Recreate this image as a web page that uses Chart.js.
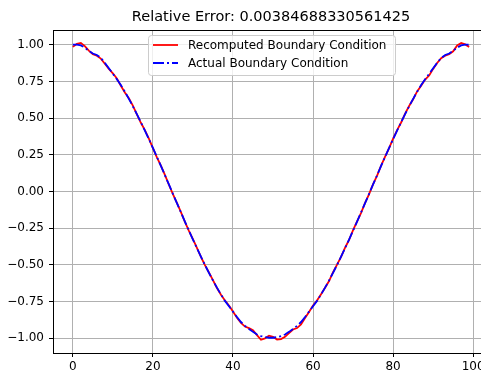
<!DOCTYPE html>
<html>
<head>
<meta charset="utf-8">
<script src="https://cdn.jsdelivr.net/npm/chart.js@4.4.0/dist/chart.umd.min.js"></script>
<style>
html,body{margin:0;padding:0;background:#fff;overflow:hidden;}
#wrap{width:500px;height:374px;}
</style>
</head>
<body>
<div id="wrap"><canvas id="canvas" width="500" height="374"></canvas></div>
<script>
const titleText="Relative Error: 0.00384688330561425";
const seriesNames=["Recomputed Boundary Condition","Actual Boundary Condition"];
const recomputed=[
0.985,1.005,1.012,0.990,0.960,0.935,0.925,0.905,0.870,0.835,
0.805,0.770,0.720,0.675,0.635,0.585,0.525,0.468,0.418,0.360,
0.295,0.233,0.176,0.113,0.046,-0.018,-0.077,-0.140,-0.207,-0.268,
-0.325,-0.384,-0.446,-0.502,-0.552,-0.604,-0.657,-0.703,-0.742,-0.776,
-0.818,-0.860,-0.895,-0.920,-0.930,-0.945,-0.978,-1.010,-1.000,-0.982,
-0.990,-1.008,-1.005,-0.990,-0.965,-0.940,-0.930,-0.905,-0.862,-0.820,
-0.776,-0.742,-0.700,-0.655,-0.610,-0.550,-0.498,-0.446,-0.383,-0.330,
-0.263,-0.203,-0.145,-0.077,-0.018,0.050,0.108,0.176,0.238,0.295,
0.360,0.418,0.470,0.530,0.582,0.628,0.682,0.720,0.762,0.790,
0.835,0.875,0.908,0.925,0.935,0.955,0.995,1.012,1.002,0.985];
const actual=[
1.000,1.000,0.995,0.980,0.958,0.940,0.930,0.910,0.876,0.840,
0.802,0.765,0.725,0.680,0.631,0.580,0.527,0.472,0.415,0.357,
0.297,0.236,0.174,0.111,0.048,-0.016,-0.079,-0.142,-0.205,-0.266,
-0.327,-0.386,-0.444,-0.500,-0.554,-0.606,-0.655,-0.701,-0.745,-0.782,
-0.818,-0.855,-0.889,-0.915,-0.936,-0.956,-0.974,-0.985,-0.992,-0.996,
-0.996,-0.992,-0.985,-0.974,-0.956,-0.936,-0.915,-0.889,-0.855,-0.818,
-0.782,-0.745,-0.701,-0.655,-0.606,-0.554,-0.500,-0.444,-0.386,-0.327,
-0.266,-0.205,-0.142,-0.079,-0.016,0.048,0.111,0.174,0.236,0.297,
0.357,0.415,0.472,0.527,0.580,0.631,0.680,0.725,0.765,0.802,
0.840,0.876,0.910,0.930,0.940,0.958,0.980,0.995,1.000,1.000];
const xTicks=[0,20,40,60,80,100];
const yTicks=[-1,-0.75,-0.5,-0.25,0,0.25,0.5,0.75,1];

const FONT="'DejaVu Sans', sans-serif";
const dashDot=[11,3,2,3];

function toPoints(arr){
    return arr.map((y,i)=>({x:i,y:y}));
}
function fmtY(v){
    const s=Math.abs(v).toFixed(2);
    return v<0?"\u2212"+s:s;
}

// top spine + legend box drawn inside the axes
const extras={
    id:"extras",
    afterDatasetsDraw(chart){
        const ctx=chart.ctx;
        const a=chart.chartArea;
        ctx.save();
        ctx.strokeStyle="#000";
        ctx.lineWidth=1;
        ctx.beginPath();
        ctx.moveTo(a.left,a.top+0.5);
        ctx.lineTo(a.right,a.top+0.5);
        ctx.stroke();

        const bx=148.5,by=35.5,bw=247,bh=40,r=3;
        ctx.beginPath();
        ctx.roundRect(bx,by,bw,bh,r);
        ctx.fillStyle="rgba(255,255,255,0.8)";
        ctx.fill();
        ctx.strokeStyle="#cccccc";
        ctx.stroke();

        const rows=[
            {y:45,color:"red",dash:[]},
            {y:63,color:"blue",dash:dashDot}
        ];
        ctx.font="12px "+FONT;
        ctx.textBaseline="middle";
        rows.forEach((row,i)=>{
            ctx.beginPath();
            ctx.setLineDash(row.dash);
            ctx.strokeStyle=row.color;
            ctx.lineWidth=1.8;
            ctx.moveTo(153,row.y);
            ctx.lineTo(178,row.y);
            ctx.stroke();
            ctx.setLineDash([]);
            ctx.fillStyle="#000";
            ctx.fillText(seriesNames[i],188,row.y+0.5);
        });
        ctx.restore();
    }
};

new Chart(document.getElementById("canvas"),{
    type:"line",
    data:{
        datasets:[
            {
                label:seriesNames[0],
                data:toPoints(recomputed),
                borderColor:"red",
                borderWidth:1.8,
                pointRadius:0,
                tension:0,
                order:1
            },
            {
                label:seriesNames[1],
                data:toPoints(actual),
                borderColor:"blue",
                borderWidth:1.8,
                borderDash:dashDot,
                pointRadius:0,
                tension:0,
                order:0
            }
        ]
    },
    options:{
        responsive:false,
        animation:false,
        layout:{padding:{left:0,right:11,top:0,bottom:0}},
        plugins:{
            legend:{display:false},
            tooltip:{enabled:false},
            title:{
                display:true,
                fullSize:false,
                text:titleText,
                color:"#000",
                font:{family:FONT,size:14.5,weight:"normal"},
                padding:{top:8.5,bottom:4.1}
            }
        },
        scales:{
            x:{
                type:"linear",
                min:-4.95,
                max:103.95,
                afterBuildTicks:s=>{s.ticks=xTicks.map(v=>({value:v}));},
                afterFit:s=>{s.height=21;},
                ticks:{
                    color:"#000",
                    font:{family:FONT,size:12},
                    padding:3,
                    maxRotation:0,
                    autoSkip:false,
                    callback:v=>String(v)
                },
                grid:{color:"#b0b0b0",lineWidth:1,tickLength:4,tickColor:"#000"},
                border:{color:"#000",width:1}
            },
            y:{
                type:"linear",
                min:-1.1,
                max:1.1,
                afterBuildTicks:s=>{s.ticks=yTicks.map(v=>({value:v}));},
                afterFit:s=>{s.width=53;},
                ticks:{
                    color:"#000",
                    font:{family:FONT,size:12},
                    padding:5,
                    autoSkip:false,
                    callback:v=>fmtY(v)
                },
                grid:{color:"#b0b0b0",lineWidth:1,tickLength:4,tickColor:"#000"},
                border:{color:"#000",width:1}
            }
        }
    },
    plugins:[extras]
});
</script>
</body>
</html>
